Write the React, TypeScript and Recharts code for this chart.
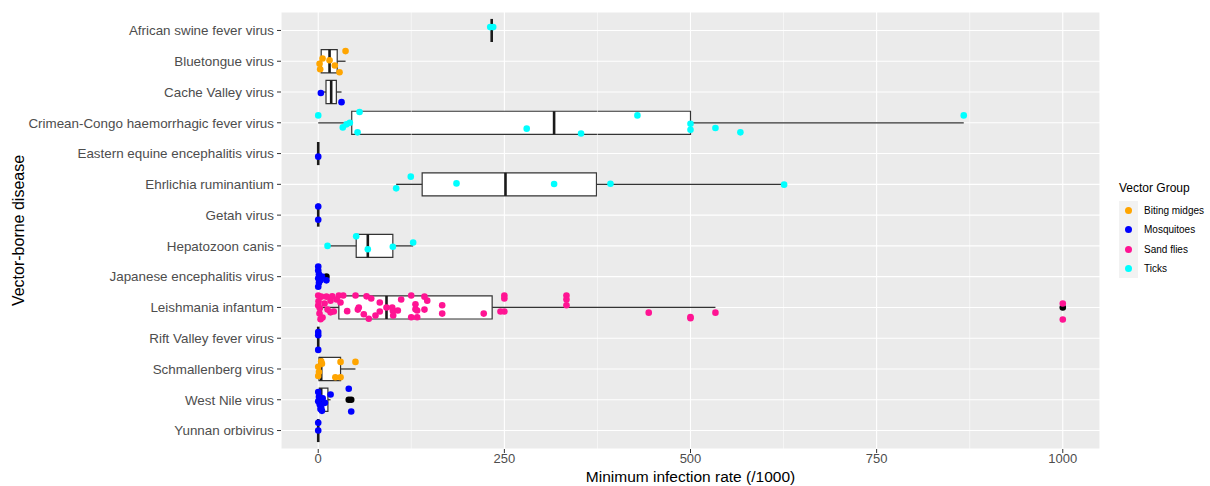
import React from 'react'
import { ScatterChart, Scatter, XAxis, YAxis, CartesianGrid, ReferenceArea, ReferenceLine } from 'recharts'

const DISEASES = [
  'African swine fever virus',
  'Bluetongue virus',
  'Cache Valley virus',
  'Crimean-Congo haemorrhagic fever virus',
  'Eastern equine encephalitis virus',
  'Ehrlichia ruminantium',
  'Getah virus',
  'Hepatozoon canis',
  'Japanese encephalitis virus',
  'Leishmania infantum',
  'Rift Valley fever virus',
  'Schmallenberg virus',
  'West Nile virus',
  'Yunnan orbivirus',
]

const X_TICKS = [0, 250, 500, 750, 1000]
const X_MINOR = [125, 375, 625, 875]

// box stats per disease (same order as DISEASES)
const BOX_MIN = [233, 1.8, 3.5, 0, 0, 104.7, 0, 12.5, 0, 0, 0, 0, 0, 0]
const BOX_Q1 = [233, 4, 10.45, 45, 0, 139.6, 0, 51, 0, 27.7, 0, 1, 1.5, 0]
const BOX_MED = [233, 15.2, 17.4, 316.8, 0, 251.5, 0, 66.6, 0.5, 91.7, 0, 4, 4, 0]
const BOX_Q3 = [233, 25.5, 24.35, 500, 0, 373.7, 0, 100.2, 3, 233.6, 0, 30, 13, 0]
const BOX_MAX = [233, 36.7, 31.3, 867, 0, 625.7, 0, 127.5, 5, 533.5, 0, 50, 16.6, 0]

// [disease number, value]
const OUTLIERS = [[9, 11], [10, 1000], [13, 41], [13, 44.3]]

// [disease number, value, vertical jitter]
const BITING_MIDGES = [
  [2, 36.7, -0.33], [2, 5.8, -0.09], [2, 1.8, 0.08], [2, 15.2, -0.03], [2, 22.3, 0.14], [2, 2.6, 0.26], [2, 28.6, 0.36],
  [12, 50, -0.23], [12, 30, -0.23], [12, 4, -0.25], [12, 5, -0.17], [12, 0, -0.07], [12, 1, 0.1], [12, 0, 0.23], [12, 23, 0.27], [12, 30, 0.27],
]

const MOSQUITOES = [
  [3, 3.5, 0.03], [3, 31.3, 0.33],
  [5, 0, 0.1],
  [7, 0, -0.28], [7, 0, 0.15],
  [9, 0, -0.33], [9, 0, -0.2], [9, 1, -0.08], [9, 0, 0.05], [9, 1, 0.2], [9, 0, 0.33], [9, 3, 0.12], [9, 5, 0.0], [9, 11, 0.12],
  [11, 0, -0.2], [11, 0, -0.1], [11, 0, 0.38],
  [13, 0, -0.25], [13, 1, -0.1], [13, 0, 0.05], [13, 2, 0.15], [13, 3, 0.3], [13, 5, 0.36], [13, 6, -0.05], [13, 9, 0.1],
  [13, 16.6, -0.17], [13, 4, 0.25], [13, 41, -0.36], [13, 44.3, 0.38],
  [14, 0, -0.25], [14, 0, 0.0],
]

const SAND_FLIES = [
  [10, 4, -0.35], [10, 18.8, -0.36], [10, 27.7, -0.39], [10, 33.6, -0.39], [10, 50.1, -0.39], [10, 64.9, -0.36],
  [10, 71.2, -0.29], [10, 82.7, -0.16], [10, 111.4, -0.26], [10, 124.9, -0.39], [10, 142.7, -0.35], [10, 2.1, 0.03],
  [10, 16.5, 0.16], [10, 38.9, 0.12], [10, 53.2, 0.07], [10, 61.2, 0.22], [10, 67.9, 0.37], [10, 76.9, 0.26],
  [10, 82.7, 0.13], [10, 91.7, 0.0], [10, 100.2, 0.11], [10, 100.7, 0.26], [10, 106.9, 0.1], [10, 124.9, 0.32],
  [10, 130.6, -0.1], [10, 132.9, 0.1], [10, 142.7, 0.07], [10, 166.5, -0.07], [10, 166.5, 0.2], [10, 222.3, 0.2],
  [10, 250, -0.39], [10, 250, -0.29], [10, 244.8, 0.13], [10, 250, 0.13], [10, 333.4, -0.39], [10, 333.4, -0.26],
  [10, 333.4, -0.07], [10, 443.9, 0.17], [10, 500, 0.31], [10, 500, 0.35], [10, 533.5, 0.17], [10, 1000, -0.13],
  [10, 1000, 0.39], [10, 0, -0.06], [10, 3.1, 0.38], [10, 16.5, -0.22], [10, 20.9, 0.13], [10, 0.4, -0.2],
  [10, 1.7, 0.2], [10, 8.5, -0.13], [10, 11.1, -0.35], [10, 12.5, 0.07], [10, 5.8, 0.33], [10, 24.6, -0.26],
  [10, 29.9, -0.16], [10, 0, -0.39], [10, 54.5, 0.0], [10, 99.4, 0.0], [10, 130.6, 0.06], [10, 132.9, 0.32],
  [10, 146.4, -0.22],
]

const TICKS = [
  [1, 231, -0.11], [1, 235, -0.11],
  [4, 0, -0.24], [4, 55.5, -0.35], [4, 33, 0.15], [4, 38, 0.05], [4, 42.5, 0], [4, 52.8, 0.31], [4, 280, 0.19],
  [4, 353, 0.35], [4, 428.7, -0.24], [4, 500, 0.03], [4, 500, 0.23], [4, 533.5, 0.17], [4, 567, 0.31], [4, 867, -0.24],
  [6, 104.7, 0.13], [6, 124.3, -0.25], [6, 185.7, -0.03], [6, 316.8, -0.01], [6, 392.5, -0.02], [6, 625.7, 0.01],
  [8, 12.5, 0], [8, 51, -0.31], [8, 66.6, 0.11], [8, 100.2, 0.03], [8, 127.5, -0.11],
]

const GROUPS = [
  { name: 'Biting midges', color: '#FFA500', points: BITING_MIDGES },
  { name: 'Mosquitoes', color: '#0000FF', points: MOSQUITOES },
  { name: 'Sand flies', color: '#FF1493', points: SAND_FLIES },
  { name: 'Ticks', color: '#00FFFF', points: TICKS },
]

const HALF = 0.375
const EDGE = '#333333'

const dot = (color: string) => (p: any) => <circle cx={p.cx} cy={p.cy} r={3.3} fill={color} />

export default function App() {
  return (
    <div style={{ position: 'absolute', left: 0, top: 0, width: 1210, height: 486, background: '#fff', fontFamily: 'Liberation Sans, Arial, sans-serif' }}>
      <ScatterChart width={1210} height={486} margin={{ top: 12, right: 110, bottom: 0, left: 0 }}>
        <CartesianGrid fill="#EBEBEB" fillOpacity={1} stroke="#fff" strokeWidth={1.1} />
        {X_MINOR.map(v => (
          <ReferenceLine key={'m' + v} x={v} stroke="#fff" strokeWidth={0.55} />
        ))}
        <XAxis
          type="number"
          dataKey="x"
          domain={[-50, 1050]}
          ticks={X_TICKS}
          allowDataOverflow
          height={37}
          axisLine={false}
          tickLine={{ stroke: EDGE }}
          tickSize={4}
          tickMargin={1}
          tick={{ fontSize: 13, fill: '#4D4D4D' }}
          label={{ value: 'Minimum infection rate (/1000)', position: 'insideBottom', offset: 4, style: { fontSize: 15.5, fill: '#000' } }}
        />
        <YAxis
          type="number"
          dataKey="y"
          domain={[0.4, 14.6]}
          ticks={DISEASES.map((_, i) => i + 1)}
          tickFormatter={(v: number) => DISEASES[v - 1]}
          interval={0}
          reversed
          allowDataOverflow
          width={281}
          axisLine={false}
          tickLine={{ stroke: EDGE }}
          tickSize={4}
          tickMargin={3}
          tick={{ fontSize: 13.4, fill: '#4D4D4D' }}
          label={{ value: 'Vector-borne disease', angle: -90, position: 'insideLeft', offset: 18, style: { textAnchor: 'middle', fontSize: 16, fill: '#000' } }}
        />
        {DISEASES.map((_, i) => {
          const y = i + 1
          return (
            <React.Fragment key={'b' + i}>
              {BOX_Q1[i] > BOX_MIN[i] && (
                <ReferenceLine segment={[{ x: BOX_MIN[i], y }, { x: BOX_Q1[i], y }]} stroke={EDGE} strokeWidth={1.3} />
              )}
              {BOX_MAX[i] > BOX_Q3[i] && (
                <ReferenceLine segment={[{ x: BOX_Q3[i], y }, { x: BOX_MAX[i], y }]} stroke={EDGE} strokeWidth={1.3} />
              )}
              {BOX_Q3[i] > BOX_Q1[i] && (
                <ReferenceArea x1={BOX_Q1[i]} x2={BOX_Q3[i]} y1={y - HALF} y2={y + HALF} fill="#fff" fillOpacity={1} stroke={EDGE} strokeWidth={1.2} />
              )}
              <ReferenceLine segment={[{ x: BOX_MED[i], y: y - HALF }, { x: BOX_MED[i], y: y + HALF }]} stroke="#1a1a1a" strokeWidth={2.6} />
            </React.Fragment>
          )
        })}
        <Scatter
          name="outliers"
          data={OUTLIERS.map(([d, v]) => ({ x: v, y: d }))}
          shape={dot('#000')}
          isAnimationActive={false}
        />
        {GROUPS.map(g => (
          <Scatter
            key={g.name}
            name={g.name}
            data={g.points.map(([d, v, j]) => ({ x: v, y: d + j }))}
            shape={dot(g.color)}
            isAnimationActive={false}
          />
        ))}
      </ScatterChart>
      <div style={{ position: 'absolute', left: 1119, top: 181, fontSize: 12, color: '#000' }}>Vector Group</div>
      <div style={{ position: 'absolute', left: 1119, top: 201, width: 19, height: 77, background: '#F2F2F2' }} />
      {GROUPS.map((g, i) => (
        <React.Fragment key={'l' + g.name}>
          <div style={{ position: 'absolute', left: 1125, top: 207 + i * 19.3, width: 7, height: 7, borderRadius: '50%', background: g.color }} />
          <div style={{ position: 'absolute', left: 1144, top: 204 + i * 19.3, fontSize: 10, lineHeight: '13px', color: '#000' }}>{g.name}</div>
        </React.Fragment>
      ))}
    </div>
  )
}
